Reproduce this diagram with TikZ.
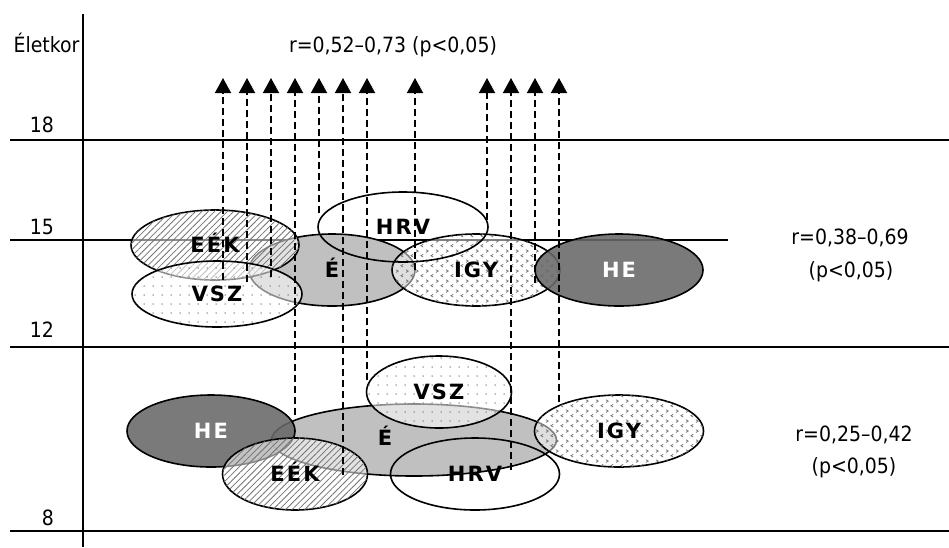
\documentclass[tikz,border=0pt]{standalone}
\usepackage{fontspec}
\setmainfont{DejaVu Sans}[FakeStretch=0.9]
\newfontfamily\labfont{DejaVu Sans}[LetterSpace=10]
\usetikzlibrary{shapes.geometric,arrows.meta,patterns.meta}
\definecolor{egray}{RGB}{192,192,192}
\definecolor{hegray}{RGB}{104,104,104}
\definecolor{patgray}{RGB}{115,115,115}
\tikzdeclarepattern{
  name=chev, type=uncolored,
  bounding box={(0pt,0pt) and (10pt,10pt)},
  tile size={(10pt,10pt)},
  code={
    \draw[line width=0.8pt] (3.5pt,1pt) -- (1pt,2.5pt) -- (3.5pt,4pt);
    \draw[line width=0.8pt] (6.5pt,6pt) -- (9pt,7.5pt) -- (6.5pt,9pt);
  }
}
\begin{document}
\begin{tikzpicture}[x=1pt,y=-1pt,
  ell/.style={ellipse, draw, line width=1.6pt, inner sep=0pt, text height=15pt, text depth=0pt,
    font={\labfont\bfseries\fontsize{21pt}{21pt}\selectfont}, text opacity=1},
  lab/.style={inner sep=0pt, text height=15pt, text depth=0pt,
    font={\labfont\bfseries\fontsize{21pt}{21pt}\selectfont}},
  txt/.style={inner sep=0pt, anchor=base, font={\fontsize{21pt}{21pt}\selectfont}},
  num/.style={inner sep=0pt, anchor=base east, font={\fontsize{21pt}{21pt}\selectfont}},
  axis/.style={line width=1.4pt},
  egfill/.style={fill=egray},
  hatchfill/.style={fill=white, fill opacity=0.55,
    postaction={fill opacity=1, pattern={Lines[angle=45,distance=4.5pt,line width=0.8pt]}, pattern color=patgray}},
  dotfill/.style={fill=white, fill opacity=0.55,
    postaction={fill opacity=1, pattern={Dots[radius=0.75pt,distance=9pt]}, pattern color=patgray}},
  chevfill/.style={fill=white, fill opacity=0.5,
    postaction={fill opacity=1, pattern=chev, pattern color=patgray}},
  hefill/.style={fill=hegray, fill opacity=0.88, text=white},
  darr/.style={line width=1.5pt, dash pattern=on 7pt off 4pt, -{Triangle[width=16pt,length=15pt]}}
]
\useasboundingbox (0,0) rectangle (949,547);
\fill[white] (0,0) rectangle (949,547);

% axes and age lines
\draw[axis] (83,14) -- (83,547);
\draw[axis] (10,140) -- (949,140);
\draw[axis] (10,240) -- (728,240);
\draw[axis] (10,347) -- (949,347);
\draw[axis] (10,531) -- (949,531);

% texts
\node[txt] (age) at (46.5,52) {Életkor};
\node[txt] (rtop) at (393,52) {r=0,52–0,73 (p<0,05)};
\node[num] (n18) at (54,132) {18};
\node[num] (n15) at (54,234) {15};
\node[num] (n12) at (54,337) {12};
\node[num] (n8) at (54,525) {8};
\node[txt] (rmid) at (850,244) {r=0,38–0,69};
\node[txt] (pmid) at (851,277) {(p<0,05)};
\node[txt] (rbot) at (854,441) {r=0,25–0,42};
\node[txt] (pbot) at (854,473) {(p<0,05)};

% upper group (12-15 years)
\node[ell, egfill, minimum width=166pt, minimum height=72pt] (E1) at (332,270) {É};
\node[ell, hatchfill, minimum width=168pt, minimum height=70pt] (EEK1) at (215,245) {EÉK};
\node[ell, dotfill, minimum width=170pt, minimum height=66pt] (VSZ1) at (217,294) {VSZ};
\node[ell, chevfill, minimum width=168pt, minimum height=72pt] (IGY1) at (476,270) {IGY};
\node[ell, minimum width=170pt, minimum height=70pt] (HRV1) at (403,227) {HRV};
\node[ell, hefill, minimum width=168pt, minimum height=72pt] (HE1) at (619,270) {HE};

% lower group (8-12 years)
\node[ell, egfill, minimum width=285pt, minimum height=72pt] (E2) at (414,440) {};
\node[ell, hefill, minimum width=168pt, minimum height=72pt] (HE2) at (211,431) {HE};
\node[ell, hatchfill, minimum width=145pt, minimum height=72pt] (EEK2) at (295,474) {EÉK};
\node[ell, dotfill, minimum width=145pt, minimum height=72pt] (VSZ2) at (439,392) {VSZ};
\node[ell, chevfill, minimum width=169pt, minimum height=72pt] (IGY2) at (619,431) {IGY};
\node[ell, minimum width=169pt, minimum height=72pt] (HRV2) at (475,474) {HRV};
\node[lab] (E2lab) at (385,438) {É};

% dashed arrows
\foreach \i/\x/\y in {1/223/280, 2/247/282, 3/271/277, 4/295/415, 5/319/213, 6/343/475,
                      7/367/380, 8/415/270, 9/487/220, 10/511/470, 11/535/283, 12/559/402}{
  \coordinate (b\i) at (\x,\y);
  \coordinate (t\i) at (\x,78);
  \draw[darr] (b\i) -- (t\i);
}
\end{tikzpicture}
\end{document}
